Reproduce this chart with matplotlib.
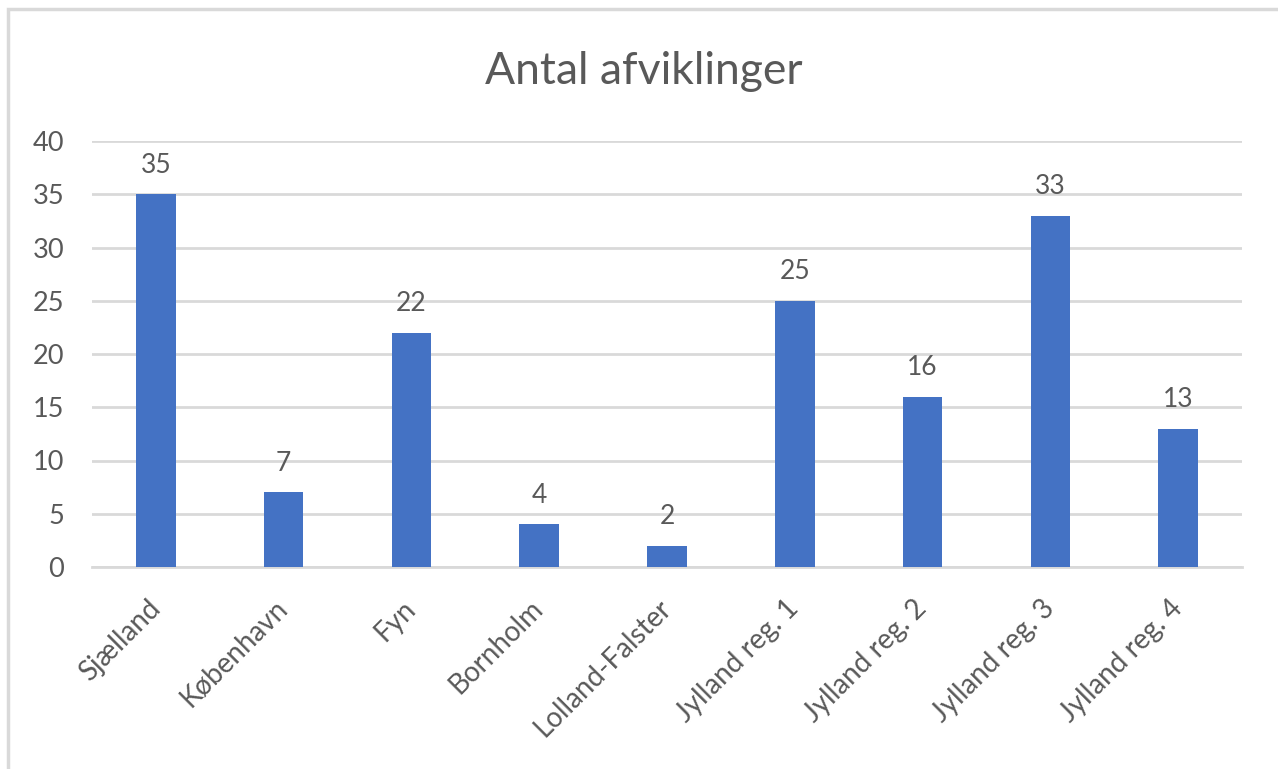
import matplotlib
matplotlib.use("Agg")
import matplotlib.pyplot as plt
from matplotlib.patches import Rectangle

categories = ["Sjælland", "København", "Fyn", "Bornholm", "Lolland-Falster",
              "Jylland reg. 1", "Jylland reg. 2", "Jylland reg. 3", "Jylland reg. 4"]
values = [35, 7, 22, 4, 2, 25, 16, 33, 13]
yticks = [0, 5, 10, 15, 20, 25, 30, 35, 40]

plt.rcParams['font.family'] = ['Lato', 'DejaVu Sans']
txt = '#595959'
grid = '#d9d9d9'

fig = plt.figure(figsize=(12.78, 7.69), dpi=100)
fig.patches.append(Rectangle((8/1278, -0.05), 1.1, 1.05 - 9/769,
                             transform=fig.transFigure, fill=False,
                             edgecolor=grid, linewidth=2.5))
ax = fig.add_axes([92/1278, 1 - 567/769, (1242 - 92)/1278, (567 - 141)/769])

x = list(range(len(categories)))
ax.bar(x, values, width=0.31, color='#4472C4', zorder=3)
for xi, v in zip(x, values):
    ax.annotate(str(v), (xi, v), xytext=(0, 12), textcoords='offset points',
                ha='center', va='bottom', fontsize=19, color=txt)

ax.set_xlim(-0.5, len(categories) - 0.5)
ax.set_ylim(0, 40)
ax.set_yticks(yticks)
ax.set_yticklabels([str(t) for t in yticks])
ax.set_xticks(x)
ax.set_xticklabels(categories, rotation=45, ha='right', va='center',
                   rotation_mode='anchor')
ax.tick_params(axis='y', length=0, pad=20, labelsize=19.5, labelcolor=txt)
ax.tick_params(axis='x', length=0, pad=27, labelsize=20, labelcolor=txt)
ax.grid(axis='y', color=grid, linewidth=2, zorder=0)
for s in ['top', 'right', 'left']:
    ax.spines[s].set_visible(False)
ax.spines['bottom'].set_color(grid)
ax.spines['bottom'].set_linewidth(2)

fig.text(644/1278, 1 - 72/769, "Antal afviklinger", ha='center', va='center',
         fontsize=32, color=txt)

fig.savefig("out.png", dpi=100, facecolor='white')
